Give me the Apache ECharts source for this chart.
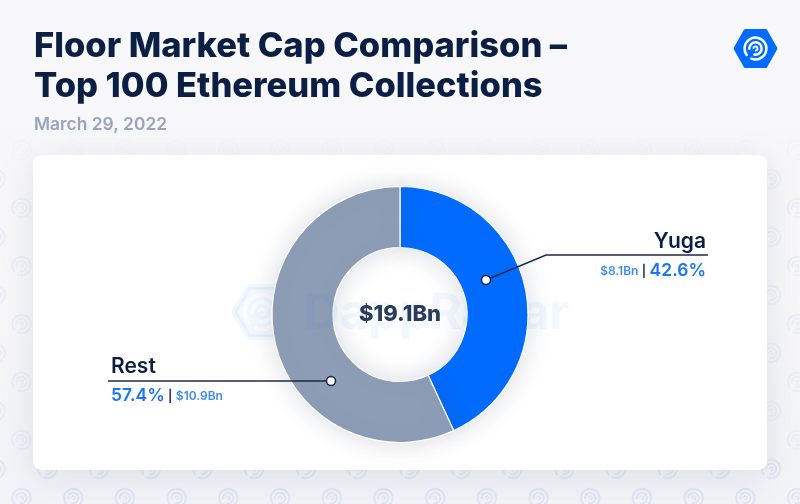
<!DOCTYPE html>
<html><head><meta charset="utf-8">
<style>html,body{margin:0;padding:0;background:#f7f7f9}#c{width:800px;height:504px}</style>
<script src="https://cdn.jsdelivr.net/npm/echarts@6/dist/echarts.min.js"></script>
</head><body><div id="c"></div>
<script>
const titleLines = ['Floor Market Cap Comparison –', 'Top 100 Ethereum Collections'];
const subtitle = 'March 29, 2022';
const categories = ['Yuga', 'Rest'];
const shares = ['42.6%', '57.4%'];
const amounts = ['$8.1Bn', '$10.9Bn'];
const pieValues = [43.1, 56.9];
const colors = ['#006cff', '#8d9db6'];
const totalLabel = '$19.1Bn';
const brand = 'DappRadar';

const FONT = 'Inter';
const NAVY = '#0b1f45';
const chart = echarts.init(document.getElementById('c'), null, {renderer: 'canvas'});
const g = [];

function hex(cx, cy, rx, ry, fill, z) {
  return {type: 'polygon', z, silent: true,
    shape: {points: [[cx - rx, cy], [cx - rx / 2, cy - ry], [cx + rx / 2, cy - ry], [cx + rx, cy], [cx + rx / 2, cy + ry], [cx - rx / 2, cy + ry]], smooth: 0},
    style: {fill, stroke: fill, lineWidth: rx * 0.18, lineJoin: 'round'}};
}
function logoArcs(cx, cy, s, stroke, z) {
  const arc = (r, a, b, w) => ({type: 'arc', z, silent: true,
    shape: {cx, cy, r: r * s, startAngle: a, endAngle: b, clockwise: true},
    style: {stroke, fill: 'none', lineWidth: w * s, lineCap: 'round'}});
  return [arc(11.5, 2.5, 1.95, 2.6), arc(6.5, 3.1, 1.75, 2.6), arc(2.2, 3.4, 1.4, 2.0)];
}

// faint background pattern, stronger towards the bottom
for (let row = 0; row < 13; row++) {
  const cy = 498 - row * 29;
  const alpha = cy > 450 ? 0.17 : cy > 150 ? 0.09 : 0.03;
  for (let col = -1; col < 17; col++) {
    const cx = 21.5 + col * 51.7 + (row % 2 ? 25.8 : 0);
    logoArcs(cx, cy, 0.8, `rgba(150,165,225,${alpha})`, 1).forEach(a => g.push(a));
  }
}

// card
g.push({type: 'rect', z: 2, silent: true, shape: {x: 33, y: 155, width: 734, height: 315, r: 9},
  style: {fill: '#fff', shadowBlur: 34, shadowColor: 'rgba(110,120,150,0.16)', shadowOffsetY: 6}});

// top right logo
g.push(hex(755.5, 48.5, 20, 17.8, '#006cff', 3));
logoArcs(755.5, 48.5, 0.95, '#fff', 4).forEach(a => g.push(a));

// watermark
g.push(hex(264, 312, 30, 25, 'rgba(0,108,255,0.05)', 3));
logoArcs(262, 312, 1.5, 'rgba(255,255,255,0.75)', 4).forEach(a => g.push(a));
g.push({type: 'text', z: 20, silent: true,
  style: {x: 304, y: 314, text: brand, font: '700 49px ' + FONT, fill: 'rgba(0,108,255,0.05)', align: 'left', verticalAlign: 'middle'}});

// centre total
g.push({type: 'text', z: 30, silent: true,
  style: {x: 400, y: 314, text: totalLabel, font: '800 22px ' + FONT, fill: '#2b3b5c', align: 'center', verticalAlign: 'middle'}});

// leaders
g.push({type: 'polyline', z: 30, silent: true, shape: {points: [[486, 280], [546, 255], [708, 255]]},
  style: {stroke: '#1c2a4a', lineWidth: 1.5, fill: 'none'}});
g.push({type: 'polyline', z: 30, silent: true, shape: {points: [[331, 381], [108, 381]]},
  style: {stroke: '#1c2a4a', lineWidth: 1.5, fill: 'none'}});
[[486, 280], [331, 381]].forEach(([cx, cy]) => g.push({type: 'circle', z: 31, silent: true,
  shape: {cx, cy, r: 4.5}, style: {fill: '#fff', stroke: '#16233f', lineWidth: 1.5}}));

// labels
const rich = {
  big: {font: '600 17.5px ' + FONT, fill: '#1a76f5'},
  small: {font: '600 12px ' + FONT, fill: '#3d8bf2'},
  sep: {font: '700 12px ' + FONT, fill: '#33415f'}
};
g.push({type: 'text', z: 30, silent: true, style: {x: 706, y: 242, text: categories[0], font: '600 21px ' + FONT, fill: NAVY, align: 'right', verticalAlign: 'middle'}});
g.push({type: 'text', z: 30, silent: true, style: {x: 706, y: 271, text: `{small|${amounts[0]}} {sep||} {big|${shares[0]}}`, rich, align: 'right', verticalAlign: 'middle'}});
g.push({type: 'text', z: 30, silent: true, style: {x: 111, y: 367, text: categories[1], font: '600 21px ' + FONT, fill: NAVY, align: 'left', verticalAlign: 'middle'}});
g.push({type: 'text', z: 30, silent: true, style: {x: 111, y: 396, text: `{big|${shares[1]}} {sep||} {small|${amounts[1]}}`, rich, align: 'left', verticalAlign: 'middle'}});

chart.setOption({
  animation: false,
  backgroundColor: new echarts.graphic.LinearGradient(0, 0, 0, 1, [
    {offset: 0, color: '#f8f8fa'}, {offset: 0.6, color: '#f7f7f9'}, {offset: 1, color: '#f2f3f7'}
  ]),
  title: [
    {text: titleLines.join('\n'), left: 29, top: 22, textStyle: {fontFamily: FONT, fontWeight: 800, fontSize: 34.5, lineHeight: 40, color: NAVY}, z: 40},
    {text: subtitle, left: 29, top: 111, textStyle: {fontFamily: FONT, fontWeight: 600, fontSize: 17.4, color: '#98a4bf'}, z: 40}
  ],
  graphic: {elements: g},
  series: [{
    type: 'pie', z: 5,
    center: [400, 314.5], radius: [67, 128], startAngle: 90, clockwise: true,
    silent: true, label: {show: false}, labelLine: {show: false},
    itemStyle: {borderColor: '#fff', borderWidth: 1.2, shadowBlur: 26, shadowColor: 'rgba(70,80,110,0.2)'},
    emphasis: {disabled: true},
    data: categories.map((name, i) => ({name, value: pieValues[i], itemStyle: {color: colors[i]}}))
  }]
});
</script></body></html>
